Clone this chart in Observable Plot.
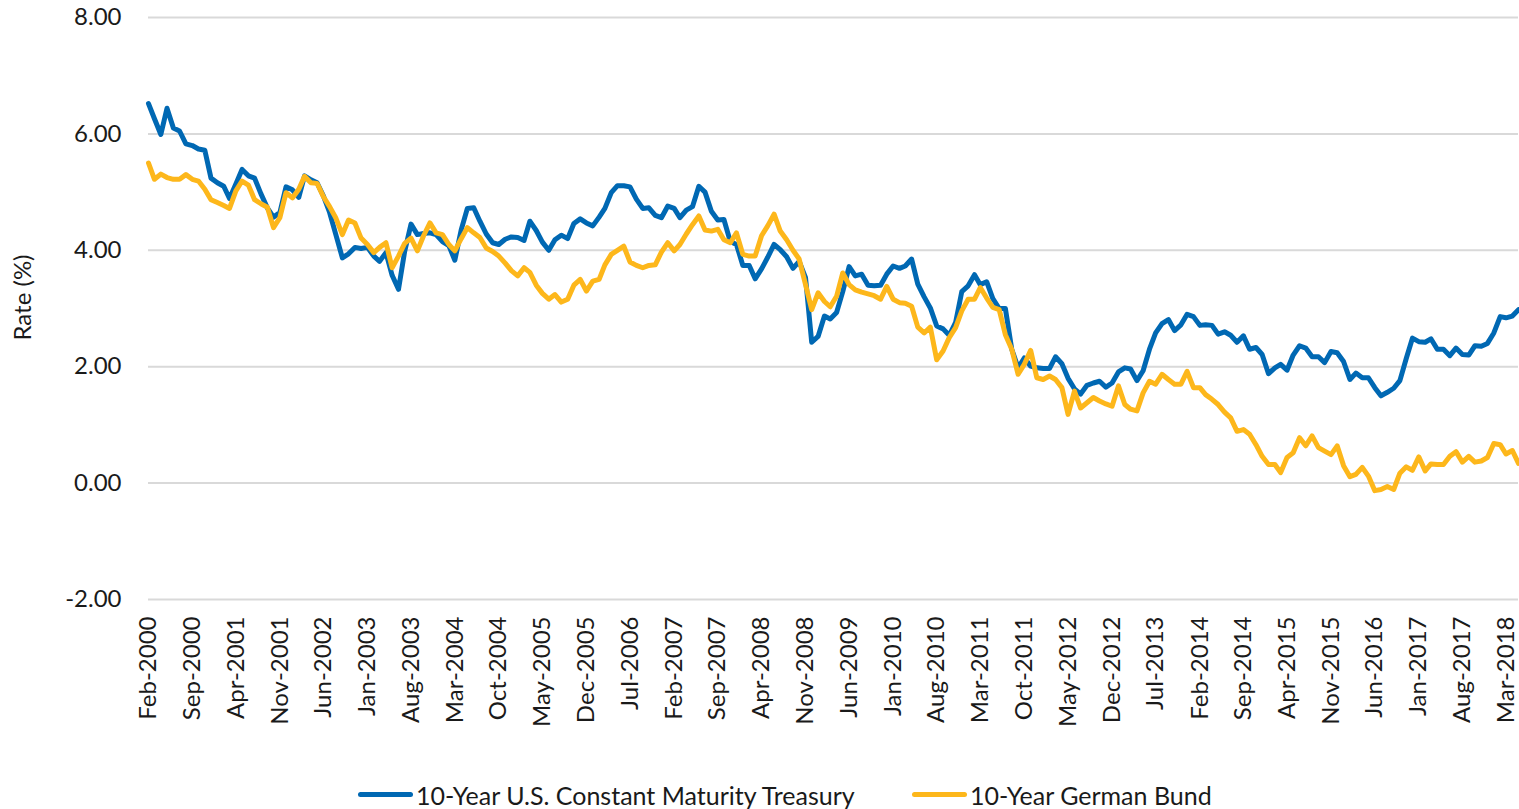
<!DOCTYPE html>
<html>
<head>
<meta charset="utf-8">
<script src="https://cdn.jsdelivr.net/npm/d3@7"></script>
<script src="https://cdn.jsdelivr.net/npm/@observablehq/plot@0.6"></script>
<style>
  html, body { margin: 0; padding: 0; background: #fff; }
  body { width: 1519px; height: 809px; overflow: hidden; font-family: Lato, "Open Sans", sans-serif; }
  #legend { position: relative; height: 39px; }
  .item { position: absolute; top: 5px; height: 39px; display: flex; align-items: center; font-size: 25px; color: #1a1a1a; white-space: nowrap; }
  .sw { width: 55px; height: 5px; border-radius: 3px; margin-right: 3px; }
</style>
</head>
<body>
<div id="chart"></div>
<div id="legend"></div>
<script>
// Series names and colours
const seriesNames = ["10-Year U.S. Constant Maturity Treasury", "10-Year German Bund"];
const seriesColors = ["#0068B3", "#FDB71B"];

// Monthly values, Feb-2000 .. May-2018 (220 months)
const usRates = [
  6.52, 6.26, 5.99, 6.44, 6.10, 6.05, 5.83, 5.80, 5.74, 5.72, 5.24,
  5.16, 5.10, 4.89, 5.14, 5.39, 5.28, 5.24, 4.97, 4.73, 4.57, 4.65, 5.09,
  5.04, 4.91, 5.28, 5.21, 5.16, 4.93, 4.65, 4.26, 3.87, 3.94, 4.05, 4.03,
  4.05, 3.90, 3.81, 3.96, 3.57, 3.33, 3.98, 4.45, 4.27, 4.29, 4.30, 4.27,
  4.15, 4.08, 3.83, 4.35, 4.72, 4.73, 4.50, 4.28, 4.13, 4.10, 4.19, 4.23,
  4.22, 4.17, 4.50, 4.34, 4.14, 4.00, 4.18, 4.26, 4.20, 4.46, 4.54, 4.47,
  4.42, 4.57, 4.72, 4.99, 5.11, 5.11, 5.09, 4.88, 4.72, 4.73, 4.60, 4.56,
  4.76, 4.72, 4.56, 4.69, 4.75, 5.10, 5.00, 4.67, 4.52, 4.53, 4.15, 4.10,
  3.74, 3.74, 3.51, 3.68, 3.88, 4.10, 4.01, 3.89, 3.69, 3.81, 3.53, 2.42,
  2.52, 2.87, 2.82, 2.93, 3.29, 3.72, 3.56, 3.59, 3.40, 3.39, 3.40, 3.59,
  3.73, 3.69, 3.73, 3.85, 3.42, 3.20, 3.01, 2.70, 2.65, 2.54, 2.76, 3.29,
  3.39, 3.58, 3.41, 3.46, 3.17, 3.00, 3.00, 2.30, 1.98, 2.15, 2.01, 1.98,
  1.97, 1.97, 2.17, 2.05, 1.80, 1.62, 1.53, 1.68, 1.72, 1.75, 1.65, 1.72,
  1.91, 1.98, 1.96, 1.76, 1.93, 2.30, 2.58, 2.74, 2.81, 2.62, 2.72, 2.90,
  2.86, 2.71, 2.72, 2.71, 2.56, 2.60, 2.54, 2.42, 2.53, 2.30, 2.33, 2.21,
  1.88, 1.98, 2.04, 1.94, 2.20, 2.36, 2.32, 2.17, 2.17, 2.07, 2.26, 2.24,
  2.09, 1.78, 1.89, 1.81, 1.81, 1.64, 1.50, 1.56, 1.63, 1.76, 2.14, 2.49,
  2.43, 2.42, 2.48, 2.30, 2.30, 2.19, 2.32, 2.21, 2.20, 2.36, 2.35, 2.40,
  2.58, 2.86, 2.84, 2.87, 2.98
];
const bundRates = [
  5.50, 5.22, 5.31, 5.25, 5.22, 5.22, 5.30, 5.22, 5.19, 5.05, 4.87,
  4.82, 4.77, 4.72, 5.02, 5.19, 5.12, 4.87, 4.80, 4.74, 4.39, 4.56, 4.99,
  4.90, 5.05, 5.27, 5.16, 5.15, 4.92, 4.75, 4.55, 4.27, 4.52, 4.47, 4.21,
  4.10, 3.96, 4.05, 4.13, 3.70, 3.90, 4.12, 4.21, 3.99, 4.25, 4.47, 4.30,
  4.27, 4.10, 3.99, 4.20, 4.39, 4.30, 4.22, 4.04, 3.98, 3.90, 3.78, 3.65,
  3.56, 3.70, 3.62, 3.40, 3.26, 3.16, 3.24, 3.11, 3.16, 3.40, 3.50, 3.30,
  3.47, 3.50, 3.75, 3.93, 4.00, 4.07, 3.80, 3.74, 3.70, 3.74, 3.75, 3.97,
  4.13, 3.99, 4.10, 4.28, 4.44, 4.59, 4.35, 4.33, 4.36, 4.18, 4.13, 4.30,
  3.93, 3.90, 3.90, 4.25, 4.42, 4.62, 4.33, 4.18, 4.00, 3.85, 3.41, 2.98,
  3.27, 3.12, 3.03, 3.21, 3.61, 3.41, 3.32, 3.28, 3.25, 3.22, 3.16, 3.38,
  3.16, 3.10, 3.09, 3.04, 2.68, 2.58, 2.68, 2.12, 2.27, 2.50, 2.67, 2.96,
  3.16, 3.16, 3.36, 3.18, 3.02, 2.98, 2.55, 2.30, 1.87, 2.04, 2.28, 1.81,
  1.78, 1.84, 1.78, 1.64, 1.18, 1.58, 1.29, 1.38, 1.47, 1.41, 1.36, 1.32,
  1.67, 1.35, 1.27, 1.24, 1.55, 1.75, 1.70, 1.87, 1.78, 1.70, 1.70, 1.92,
  1.64, 1.64, 1.52, 1.44, 1.35, 1.22, 1.12, 0.89, 0.92, 0.84, 0.66, 0.46,
  0.32, 0.32, 0.18, 0.44, 0.52, 0.78, 0.64, 0.81, 0.61, 0.55, 0.49, 0.64,
  0.30, 0.11, 0.15, 0.27, 0.12, -0.13, -0.11, -0.06, -0.11, 0.17, 0.28, 0.22,
  0.45, 0.21, 0.33, 0.32, 0.32, 0.46, 0.54, 0.36, 0.46, 0.36, 0.38, 0.44,
  0.68, 0.66, 0.50, 0.56, 0.34
];

// Axis ticks and labels
const yTicks = [-2, 0, 2, 4, 6, 8];
const yLabel = "Rate (%)";
const monthNames = ["Jan","Feb","Mar","Apr","May","Jun","Jul","Aug","Sep","Oct","Nov","Dec"];
const firstYear = 2000, firstMonth = 1; // Feb-2000
const tickEvery = 7; // months between x labels

const dates = usRates.map((_, i) => new Date(Date.UTC(firstYear, firstMonth + i, 1)));
const tickDates = dates.filter((_, i) => i % tickEvery === 0);
const fmtMonth = d => monthNames[d.getUTCMonth()] + "-" + d.getUTCFullYear();

const rows = [
  ...usRates.map((v, i) => ({date: dates[i], value: v, series: seriesNames[0]})),
  ...bundRates.map((v, i) => ({date: dates[i], value: v, series: seriesNames[1]}))
];

const chart = Plot.plot({
  width: 1519,
  height: 770,
  marginLeft: 148,
  marginRight: 1,
  marginTop: 17,
  marginBottom: 171,
  style: {fontFamily: "Lato, 'Open Sans', sans-serif", fontSize: "24px", color: "#1a1a1a", background: "#fff", overflow: "visible"},
  x: {type: "utc", domain: [dates[0], dates[dates.length - 1]]},
  y: {domain: [-2, 8]},
  color: {domain: seriesNames, range: seriesColors},
  marks: [
    Plot.gridY(yTicks, {stroke: "#d9d9d9", strokeOpacity: 1, strokeWidth: 2}),
    Plot.axisY(yTicks, {tickSize: 0, tickPadding: 27, tickFormat: d => d.toFixed(2), label: null}),
    Plot.axisX(tickDates, {tickSize: 0, tickPadding: 17, tickRotate: -90, tickFormat: fmtMonth, label: null}),
    Plot.text([yLabel], {frameAnchor: "left", textAnchor: "middle", dx: -125, dy: -11, rotate: -90, fontSize: 24, fill: "#1a1a1a"}),
    Plot.lineY(rows.filter(r => r.series === seriesNames[0]), {x: "date", y: "value", stroke: "series", strokeWidth: 5, strokeLinejoin: "round", strokeLinecap: "round"}),
    Plot.lineY(rows.filter(r => r.series === seriesNames[1]), {x: "date", y: "value", stroke: "series", strokeWidth: 5, strokeLinejoin: "round", strokeLinecap: "round"})
  ]
});
document.getElementById("chart").appendChild(chart);

// Legend below the chart
const legend = document.getElementById("legend");
const legendLeft = [358, 912];
seriesNames.forEach((name, k) => {
  const item = document.createElement("div");
  item.className = "item";
  item.style.left = legendLeft[k] + "px";
  const sw = document.createElement("span");
  sw.className = "sw";
  sw.style.background = seriesColors[k];
  const tx = document.createElement("span");
  tx.textContent = name;
  item.appendChild(sw);
  item.appendChild(tx);
  legend.appendChild(item);
});
</script>
</body>
</html>
